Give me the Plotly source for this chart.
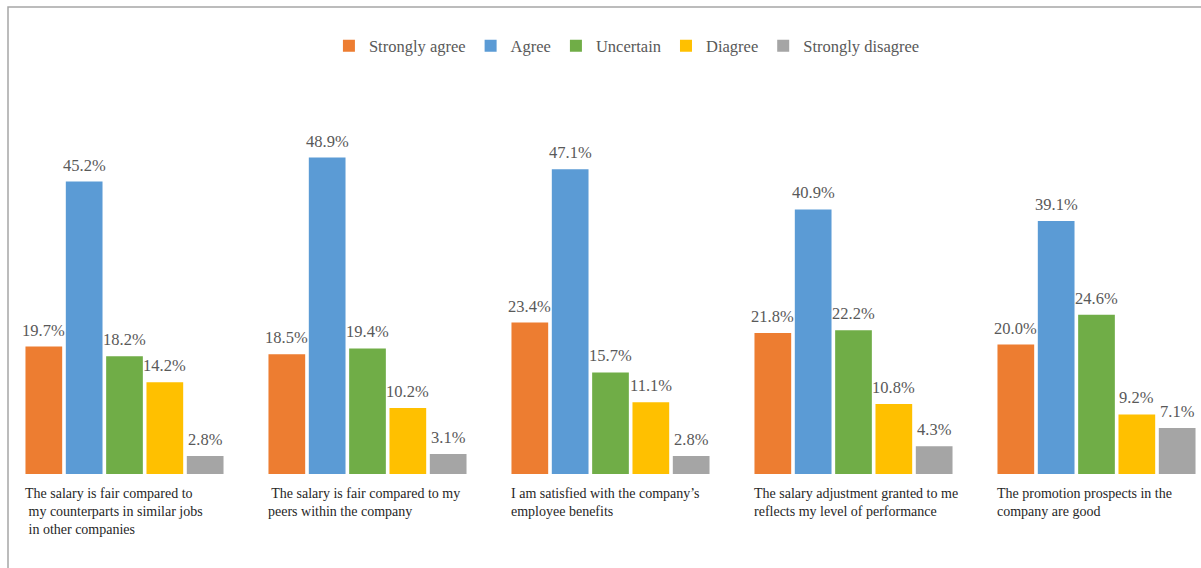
import plotly.graph_objects as go

# Survey statements (x categories) and their wrapped label text
statements = [
    "The salary is fair compared to<br> my counterparts in similar jobs<br> in other companies",
    " The salary is fair compared to my<br>peers within the company",
    "I am satisfied with the company\u2019s<br>employee benefits",
    "The salary adjustment granted to me<br>reflects my level of performance",
    "The promotion prospects in the<br>company are good",
]

responses = ["Strongly agree", "Agree", "Uncertain", "Diagree", "Strongly disagree"]

strongly_agree = [19.7, 18.5, 23.4, 21.8, 20.0]
agree = [45.2, 48.9, 47.1, 40.9, 39.1]
uncertain = [18.2, 19.4, 15.7, 22.2, 24.6]
disagree = [14.2, 10.2, 11.1, 10.8, 9.2]
strongly_disagree = [2.8, 3.1, 2.8, 4.3, 7.1]

series = [strongly_agree, agree, uncertain, disagree, strongly_disagree]
colors = ["#ED7D31", "#5B9BD5", "#70AD47", "#FFC000", "#A5A5A5"]

FONT = "Liberation Serif, Times New Roman, serif"
W, H = 1201, 568
M_T, M_B = 86, 94
plot_h = H - M_T - M_B
BARGAP = 0.17

x_idx = list(range(len(statements)))
n_series = len(series)
slot = (1 - BARGAP) / n_series

fig = go.Figure()
for j, (name, vals, col) in enumerate(zip(responses, series, colors)):
    fig.add_trace(go.Bar(
        name=name,
        x=x_idx,
        y=vals,
        marker=dict(color=col, line=dict(width=0)),
        hoverinfo="y",
    ))
    # value labels placed over the centre of each grouped bar
    for i, v in zip(x_idx, vals):
        fig.add_annotation(
            x=i + (j - (n_series - 1) / 2) * slot, xref="x",
            y=v, yref="y", yanchor="bottom", yshift=5,
            text=f"{v:.1f}%", showarrow=False,
            font=dict(family=FONT, size=16.5, color="#595959"),
        )

# statement labels under each group of bars
for i, s in enumerate(statements):
    fig.add_annotation(
        x=i, xref="x", xshift=-102, xanchor="left",
        y=(474 - 484) / plot_h, yref="paper", yanchor="top",
        text=s, showarrow=False, align="left",
        font=dict(family=FONT, size=14, color="#262626"),
    )

# chart frame (left and top edges)
fig.add_shape(
    type="rect", xref="paper", yref="paper",
    x0=8 / W, x1=1.02, y0=-0.5, y1=(474 - 7) / plot_h,
    line=dict(color="#A6A6A6", width=1.5), fillcolor="rgba(0,0,0,0)",
    layer="below",
)

fig.update_layout(
    width=W, height=H,
    margin=dict(l=0, r=0, t=M_T, b=M_B),
    paper_bgcolor="white", plot_bgcolor="white",
    barmode="group", bargap=BARGAP, bargroupgap=0.09,
    showlegend=True,
    legend=dict(
        orientation="h", x=0.522, xanchor="center",
        y=(474 - 46) / plot_h, yanchor="middle",
        font=dict(family=FONT, size=16.5, color="#595959"),
        itemwidth=30, traceorder="normal",
    ),
    xaxis=dict(
        range=[-124.5 / 243, (W - 124.5) / 243],
        showticklabels=False, showgrid=False, zeroline=False,
        showline=False, ticks="", fixedrange=True,
    ),
    yaxis=dict(
        range=[0, plot_h / 6.47],
        showticklabels=False, showgrid=False, zeroline=False,
        showline=False, ticks="", fixedrange=True,
    ),
)

fig.write_html("out.html")
